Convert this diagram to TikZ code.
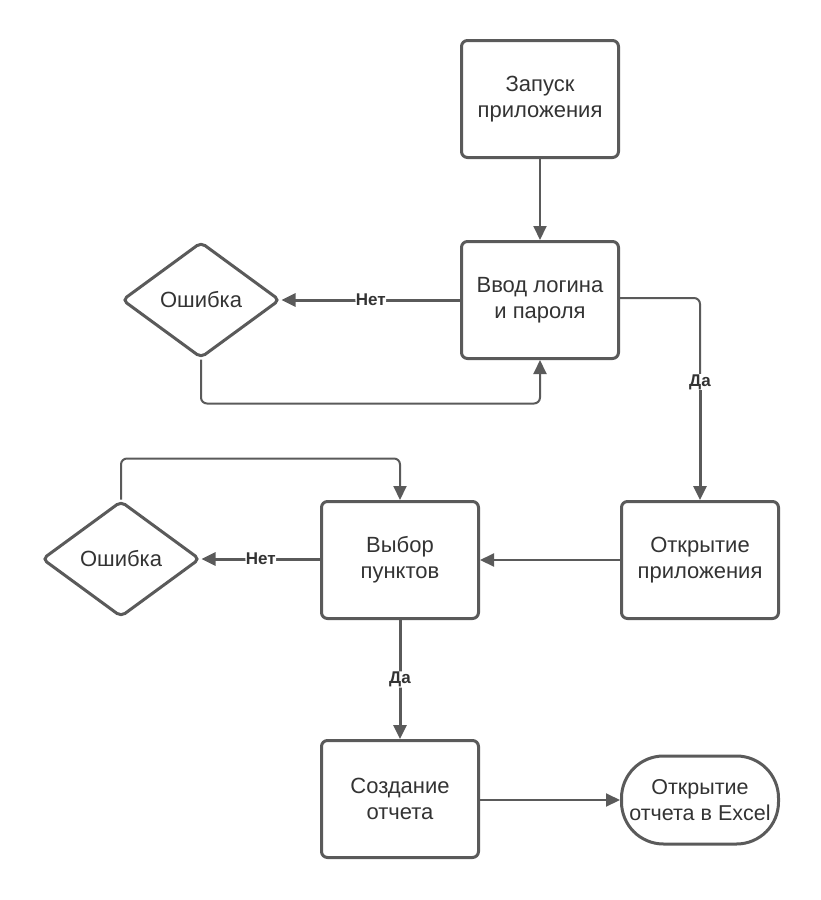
\documentclass[tikz,border=0pt]{standalone}
\usepackage{fontspec}
\setmainfont{Liberation Sans}
\usetikzlibrary{shapes.geometric,arrows.meta}
\definecolor{ln}{HTML}{5A5A5A}
\definecolor{tx}{HTML}{333333}
\tikzset{
  box/.style={draw=ln, line width=3pt, rounded corners=6pt, minimum width=157pt, minimum height=117pt, inner sep=0pt, align=center, text=tx, font=\fontsize{22}{26}\selectfont},
  dia/.style={draw=ln, line width=3pt, diamond, rounded corners=5pt, minimum width=158pt, minimum height=116pt, inner sep=0pt, aspect=1.36, text=tx, font=\fontsize{22}{26}\selectfont},
  stad/.style={draw=ln, line width=3pt, rounded corners=42pt, minimum width=157pt, minimum height=88pt, inner sep=0pt, align=center, text=tx, font=\fontsize{21.5}{26}\selectfont},
  thinc/.style={draw=ln, line width=2pt, rounded corners=6pt},
  thickc/.style={draw=ln, line width=3pt, rounded corners=6pt},
  tip/.style={-{Triangle[length=14pt,width=13pt]}},
  lab/.style={fill=white, inner sep=0.5pt, text=tx, font=\bfseries\fontsize{17}{19}\selectfont}
}
\begin{document}
\begin{tikzpicture}[x=1pt,y=-1pt]
\useasboundingbox (0,0) rectangle (820,900);
\node[box] (b1) at (540,99) {Запуск\\приложения};
\node[box] (b2) at (540,300) {Ввод логина\\и пароля};
\node[dia] (d1) at (201,300) {Ошибка};
\node[box] (b3) at (700,560) {Открытие\\приложения};
\node[box] (b4) at (400,560) {Выбор\\пунктов};
\node[dia] (d2) at (121,559) {Ошибка};
\node[box] (b5) at (400,799) {Создание\\отчета};
\node[stad] (st) at (700,800) {Открытие\\отчета в Excel};

\draw[thinc,tip] (b1.south) -- (b2.north);
\draw[thickc,tip] (b2.west |- d1.east) -- node[lab]{Нет} (d1.east);
\draw[thinc,tip] (d1.south) -- ++(0,44) -| (b2.south);
\node[lab] (l1) at (700,382) {Да};
\draw[thinc] (b2.east |- 0,298) -| (l1.north);
\draw[thickc,tip] (l1.south) -- (b3.north);
\draw[thinc,tip] (b3.west) -- (b4.east);
\draw[thickc,tip] (b4.west |- d2.east) -- node[lab]{Нет} (d2.east);
\draw[thinc,tip] (d2.north) -- ++(0,-41) -| (b4.north);
\draw[thickc,tip] (b4.south) -- node[lab]{Да} (b5.north);
\draw[thinc,tip] (b5.east |- st.west) -- (st.west);
\end{tikzpicture}
\end{document}
